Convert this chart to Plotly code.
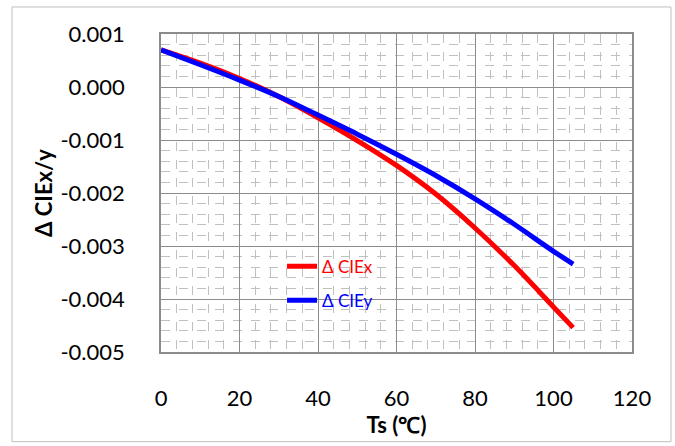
import plotly.graph_objects as go

ts = [0, 10, 20, 30, 40, 50, 60, 70, 80, 90, 100, 105]
d_ciex = [0.00070, 0.00045, 0.00016, -0.00018, -0.00058, -0.00101, -0.00148, -0.00202, -0.00266, -0.00337, -0.00415, -0.00454]
d_ciey = [0.00070, 0.00042, 0.00013, -0.00018, -0.00053, -0.00089, -0.00127, -0.00167, -0.00211, -0.00259, -0.00310, -0.00334]

y_tickvals = [0.001, 0.0, -0.001, -0.002, -0.003, -0.004, -0.005]
y_ticktext = ["0.001", "0.000", "-0.001", "-0.002", "-0.003", "-0.004", "-0.005"]
x_tickvals = [0, 20, 40, 60, 80, 100, 120]

FONT = "Lato"

fig = go.Figure()
fig.add_trace(go.Scatter(x=ts, y=d_ciex, mode="lines", line=dict(color="#ff0000", width=5, shape="spline"),
                         name="<span style='color:#ff0000'>Δ CIEx</span>", legendgroup="a"))
fig.add_trace(go.Scatter(x=ts, y=d_ciey, mode="lines", line=dict(color="#0000ff", width=5, shape="spline"),
                         name="<span style='color:#0000ff'>Δ CIEy</span>", legendgroup="b"))

fig.update_layout(
    width=675, height=446,
    margin=dict(l=161, r=43, t=34, b=94),
    paper_bgcolor="white", plot_bgcolor="white",
    font=dict(family=FONT, size=22, color="black"),
    showlegend=True,
    legend=dict(x=0.257, y=0.325, xanchor="left", yanchor="top", bgcolor="rgba(0,0,0,0)",
                font=dict(family=FONT, size=17), tracegroupgap=9, itemwidth=30),
    xaxis=dict(range=[0, 120], tickvals=x_tickvals, showline=True, linecolor="#8c8c8c", linewidth=1.5,
               mirror=True, showgrid=True, gridcolor="#8c8c8c", gridwidth=1, zeroline=False,
               ticks="", ticklabelstandoff=26, tickfont=dict(size=22),
               minor=dict(dtick=4, showgrid=True, gridcolor="#c0c0c0", griddash="dash", gridwidth=1),
               title=dict(text="<b>Ts (℃)</b>", font=dict(size=22), standoff=0)),
    yaxis=dict(range=[-0.005, 0.001], tickvals=y_tickvals, ticktext=y_ticktext, showline=True,
               linecolor="#8c8c8c", linewidth=1.5, mirror=True, showgrid=True, gridcolor="#8c8c8c",
               gridwidth=1, zeroline=False, ticks="", ticklabelstandoff=30, tickfont=dict(size=22),
               minor=dict(dtick=0.0002, showgrid=True, gridcolor="#c0c0c0", griddash="dash", gridwidth=1),
               title=dict(text="<b>Δ CIEx/y</b>", font=dict(size=22), standoff=2)),
    shapes=[dict(type="rect", xref="paper", yref="paper", x0=-0.3163, x1=1.0828, y0=-0.282, y1=1.085,
                 line=dict(color="#bfbfbf", width=1), fillcolor="rgba(0,0,0,0)", layer="below")],
)

fig.write_html("out.html", config={"displayModeBar": False},
               post_script="document.body.style.margin='0';document.body.style.overflow='hidden';")
